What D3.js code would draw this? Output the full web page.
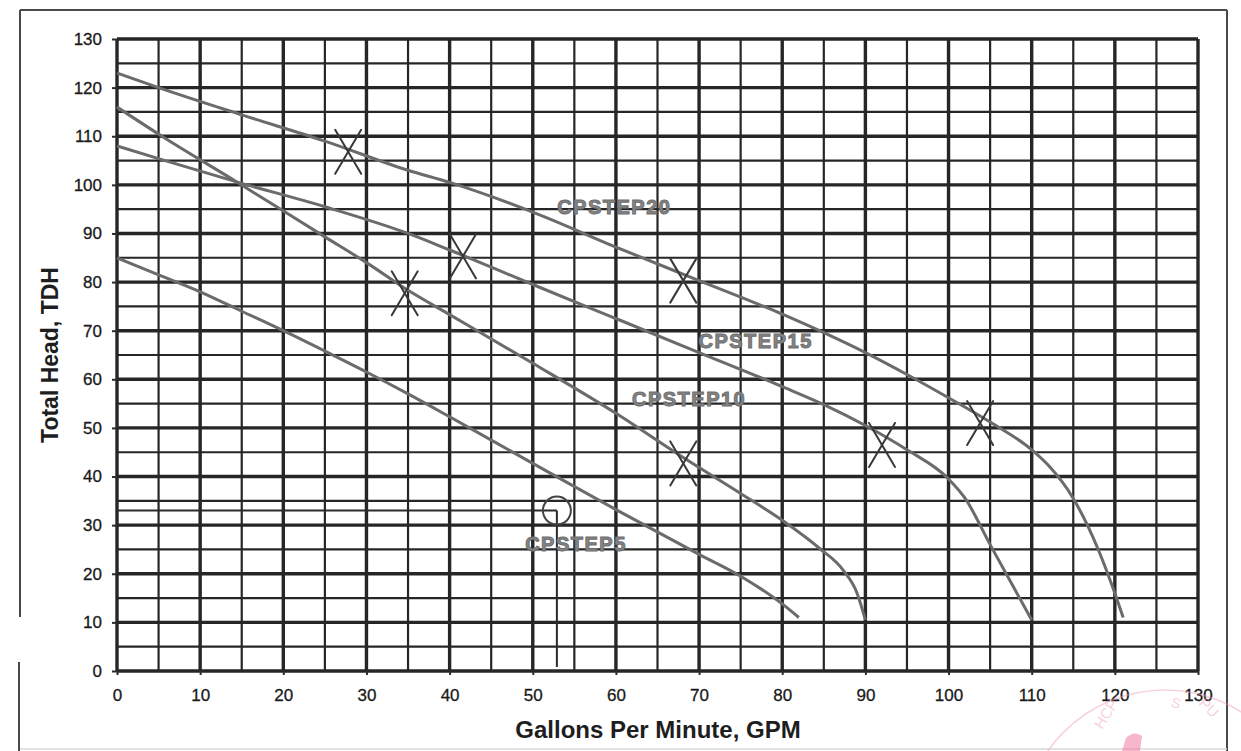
<!DOCTYPE html>
<html>
<head>
<meta charset="utf-8">
<script src="https://cdn.jsdelivr.net/npm/d3@7"></script>
<style>
  html, body { margin: 0; padding: 0; background: #fff; }
  svg { display: block; font-family: "Liberation Sans", Arial, sans-serif; }
</style>
</head>
<body>
<svg id="chart" width="1241" height="751"></svg>
<script>
// pump curves: [gpm, total head]
const cpstep20 = [[0,123],[5,120],[15,114.4],[25,109],[35,103],[40,100.5],[50,94.4],[60,87.2],[70,80.3],[80,73.4],[85,69.6],[90,65.5],[95,61],[100,56.2],[105,51.2],[110,45.5],[112,42.3],[115,35.5],[118,25],[120,16],[121,11]];
const cpstep15 = [[0,108],[5,105.4],[14.4,100.6],[25,95.5],[35,90],[40,86.6],[50,79.5],[60,72.5],[70,65.5],[80,58.5],[85,54.8],[90,50.5],[95,45.5],[100,39.5],[102,35.5],[105,26],[110,10.5]];
const cpstep10 = [[0,116],[5.4,110],[14.4,100.6],[25,89.3],[30,84],[35,78.3],[40,73.3],[50,63.3],[60,53],[68,44],[75,36.5],[80,31],[84.5,25.2],[87.3,20.8],[89,16],[90,10.5]];
const cpstep5 = [[0,85],[5,81.5],[10,78],[15,74],[20,70],[25,65.8],[30,61.5],[35,57],[40,52.3],[50,42.7],[60,33.2],[70,24],[75,19.5],[80,13.8],[82,11]];

const curveNames = ['CPSTEP20', 'CPSTEP15', 'CPSTEP10', 'CPSTEP5'];
const curveData = [cpstep20, cpstep15, cpstep10, cpstep5];
// where each curve name is written: [gpm, head]
const labelSpots = [[59.8, 95.4], [76.8, 67.8], [68.8, 55.9], [55.2, 26.1]];

// hand-drawn X marks on the sheet: [gpm, head]
const crossMarks = [[27.8,106.8],[41.6,85.3],[34.6,77.7],[68.1,80.3],[68.1,42.7],[92,46.5],[103.8,51]];
// circled duty point with its lead lines
const dutyPoint = [52.9, 33];

const xTicks = d3.range(0, 131, 10);
const yTicks = d3.range(0, 131, 10);
const gridSteps = d3.range(0, 131, 5);

const svg = d3.select('#chart');

const x = d3.scaleLinear().domain([0, 130]).range([117, 1198]);
const y = d3.scaleLinear().domain([0, 130]).range([671, 39]);

// outer frame of the scanned sheet
const frame = svg.append('g').attr('stroke', '#4a4a4a').attr('stroke-width', 2).attr('fill', 'none');
frame.append('line').attr('x1', 20).attr('y1', 10).attr('x2', 1227).attr('y2', 10);
frame.append('line').attr('x1', 20).attr('y1', 10).attr('x2', 20).attr('y2', 617);
frame.append('line').attr('x1', 19).attr('y1', 662).attr('x2', 19).attr('y2', 751);
frame.append('line').attr('x1', 1227).attr('y1', 10).attr('x2', 1227).attr('y2', 751);
svg.append('line').attr('x1', 20).attr('y1', 749).attr('x2', 1227).attr('y2', 749)
    .attr('stroke', '#d8d8d8').attr('stroke-width', 1.5);

// grid
const grid = svg.append('g').attr('stroke', '#262626');
grid.selectAll('.vg')
    .data(gridSteps)
    .enter()
    .append('line')
    .attr('x1', d => x(d)).attr('x2', d => x(d))
    .attr('y1', y(130)).attr('y2', y(0))
    .attr('stroke-width', d => d % 10 === 0 ? 3.4 : 2.2);
grid.selectAll('.hg')
    .data(gridSteps)
    .enter()
    .append('line')
    .attr('x1', x(0)).attr('x2', x(130))
    .attr('y1', d => y(d)).attr('y2', d => y(d))
    .attr('stroke-width', d => d % 10 === 0 ? 3.4 : 2.2);

// axes (ticks + labels only)
const xAxis = svg.append('g')
    .attr('transform', `translate(0,${y(0)})`)
    .call(d3.axisBottom(x).tickValues(xTicks).tickSize(4).tickPadding(14));
const yAxis = svg.append('g')
    .attr('transform', `translate(${x(0)},0)`)
    .call(d3.axisLeft(y).tickValues(yTicks).tickSize(5).tickPadding(10));
[xAxis, yAxis].forEach(ax => {
    ax.select('.domain').remove();
    ax.selectAll('line').attr('stroke', '#2b2b2b').attr('stroke-width', 2);
    ax.selectAll('text')
        .attr('fill', '#1a1a1a')
        .attr('stroke', '#1a1a1a')
        .attr('stroke-width', 0.3)
        .style('font-size', '17px')
        .style('font-family', '"Liberation Sans", Arial, sans-serif');
});

// duty point lead lines and circle
const duty = svg.append('g').attr('stroke', '#2b2b2b').attr('fill', 'none').attr('stroke-width', 2);
duty.append('line')
    .attr('x1', x(0)).attr('x2', x(dutyPoint[0]))
    .attr('y1', y(dutyPoint[1])).attr('y2', y(dutyPoint[1]));
duty.append('line')
    .attr('x1', x(dutyPoint[0])).attr('x2', x(dutyPoint[0]))
    .attr('y1', y(dutyPoint[1])).attr('y2', y(0) - 4);
duty.append('circle')
    .attr('cx', x(dutyPoint[0])).attr('cy', y(dutyPoint[1]))
    .attr('r', 14).attr('stroke', '#444');

// pump curves
const line = d3.line()
    .x(d => x(d[0]))
    .y(d => y(d[1]))
    .curve(d3.curveMonotoneX);

svg.append('g')
    .selectAll('path')
    .data(curveData)
    .enter()
    .append('path')
    .attr('d', line)
    .attr('fill', 'none')
    .attr('stroke', '#6b6b6b')
    .attr('stroke-width', 3)
    .attr('stroke-linejoin', 'round');

// curve names
svg.append('g')
    .selectAll('text')
    .data(curveNames)
    .enter()
    .append('text')
    .attr('x', (d, i) => x(labelSpots[i][0]))
    .attr('y', (d, i) => y(labelSpots[i][1]))
    .attr('text-anchor', 'middle')
    .attr('dominant-baseline', 'central')
    .attr('fill', '#858585')
    .attr('stroke', '#6e6e6e')
    .attr('stroke-width', 1)
    .style('font-size', '20px')
    .style('font-weight', 'bold')
    .style('letter-spacing', '1.5px')
    .text(d => d);

// X marks
const crosses = svg.append('g')
    .attr('stroke', '#383838')
    .attr('stroke-width', 2)
    .attr('stroke-linecap', 'round');
crossMarks.forEach(c => {
    const cx = x(c[0]), cy = y(c[1]);
    crosses.append('line').attr('x1', cx - 13).attr('y1', cy - 22).attr('x2', cx + 13).attr('y2', cy + 22);
    crosses.append('line').attr('x1', cx + 13).attr('y1', cy - 22).attr('x2', cx - 13).attr('y2', cy + 22);
});

// axis titles
svg.append('text')
    .attr('x', 658)
    .attr('y', 738)
    .attr('text-anchor', 'middle')
    .attr('fill', '#1e1e1e')
    .style('font-size', '24px')
    .style('font-weight', 'bold')
    .text('Gallons Per Minute, GPM');

svg.append('text')
    .attr('transform', 'translate(58,355) rotate(-90)')
    .attr('text-anchor', 'middle')
    .attr('fill', '#1e1e1e')
    .style('font-size', '23px')
    .style('font-weight', 'bold')
    .text('Total Head, TDH');

// faint pink stamp in the corner
const stamp = svg.append('g').attr('opacity', 0.45);
stamp.append('circle')
    .attr('cx', 1165).attr('cy', 833).attr('r', 143)
    .attr('fill', 'none').attr('stroke', '#ef9bb5').attr('stroke-width', 1.5);
stamp.append('text')
    .attr('transform', 'translate(1102,730) rotate(-58)')
    .attr('fill', '#ef9bb5').style('font-size', '15px')
    .text('HCP');
stamp.append('text')
    .attr('transform', 'translate(1170,706) rotate(20)')
    .attr('fill', '#ef9bb5').style('font-size', '14px')
    .text('S');
stamp.append('text')
    .attr('transform', 'translate(1198,704) rotate(45)')
    .attr('fill', '#ef9bb5').style('font-size', '15px')
    .text('PU');
// stronger ink blob of the stamp at the bottom edge
svg.append('path')
    .attr('d', 'M1122,751 L1126,738 Q1134,730 1142,736 L1140,751 Z')
    .attr('fill', '#f07aa0').attr('opacity', 0.55);
</script>
</body>
</html>
